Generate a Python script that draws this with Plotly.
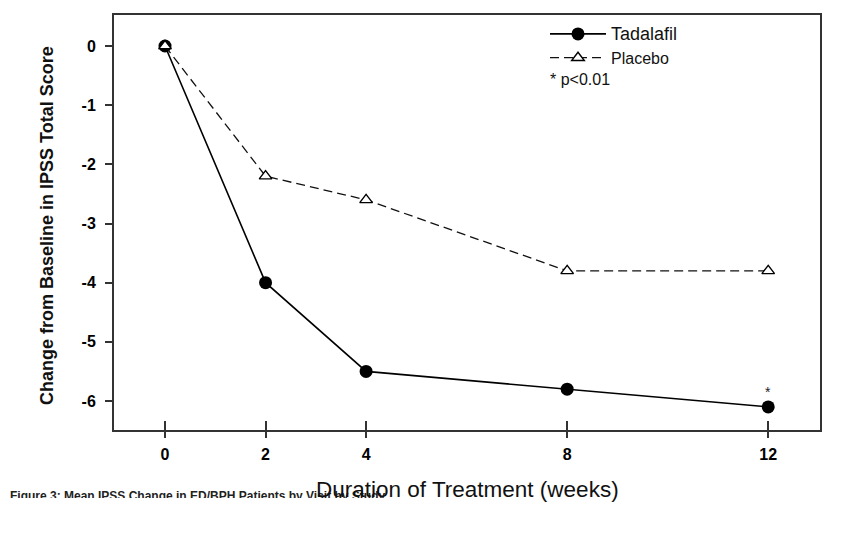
import plotly.graph_objects as go

# ---- data ----
weeks = [0, 2, 4, 8, 12]
tadalafil = [0.0, -4.0, -5.5, -5.8, -6.1]
placebo = [0.0, -2.2, -2.6, -3.8, -3.8]
x_tick_vals = [0, 2, 4, 8, 12]
x_tick_text = ["0", "2", "4", "8", "12"]
y_tick_vals = [0, -1, -2, -3, -4, -5, -6]
y_tick_text = ["0", "-1", "-2", "-3", "-4", "-5", "-6"]
sig_week = 12
sig_value = -6.1
footer_text = "Figure 3: Mean IPSS Change in ED/BPH Patients by Visit by Study"

FONT = "Liberation Sans, Arial, sans-serif"
OFF = 8                      # page body margin
W, H = 868 - OFF, 544 - OFF
MT, MB = 7, 44
PH = H - MT - MB             # plot-area height (figure px)
PB = H - MB                  # plot-area bottom (figure px)


def py(screen_y):
    """screen pixel y -> paper y"""
    return (PB - (screen_y - OFF)) / PH


def px(screen_x):
    """screen pixel x -> paper x"""
    return (screen_x - OFF) / W


fig = go.Figure()

fig.add_trace(go.Scatter(
    x=weeks, y=tadalafil, mode="lines+markers",
    name="<span style='font-size:18px'>Tadalafil</span>",
    line=dict(color="#000000", width=1.6),
    marker=dict(symbol="circle", size=13, color="#000000"),
    cliponaxis=False,
))
fig.add_trace(go.Scatter(
    x=weeks, y=placebo, mode="lines+markers",
    name="Placebo",
    line=dict(color="#111111", width=1.3, dash="9px,5px"),
    marker=dict(symbol="triangle-up", size=11, color="#ffffff",
                line=dict(color="#000000", width=1.4)),
    cliponaxis=False,
))
# empty trace to host the crossing-tick axis
fig.add_trace(go.Scatter(x=[], y=[], xaxis="x2", yaxis="y", showlegend=False))
# footer caption, clipped like in the reference
fig.add_trace(go.Scatter(
    x=[OFF + 2], y=[497], mode="text", text=["<b>" + footer_text + "</b>"],
    textposition="middle right",
    textfont=dict(size=12, color="#222", family=FONT),
    xaxis="x3", yaxis="y3", showlegend=False, hoverinfo="skip", cliponaxis=True,
))

xdom = [px(114), px(820)]
ydom = [py(430), 1.0]
xr = [-1.015, 13.03]

fig.update_layout(
    width=W, height=H, autosize=False,
    margin=dict(l=0, r=0, t=MT, b=MB, pad=0),
    paper_bgcolor="white", plot_bgcolor="white",
    font=dict(family=FONT, color="#000"),
    showlegend=True,
    legend=dict(
        x=px(545), y=py(17), xanchor="left", yanchor="top",
        bgcolor="rgba(0,0,0,0)", font=dict(size=16, color="#111", family=FONT),
        tracegroupgap=0, itemwidth=56,
    ),
    xaxis=dict(
        domain=xdom, range=xr, anchor="y",
        tickmode="array", tickvals=x_tick_vals, ticktext=x_tick_text,
        ticks="outside", ticklen=6, tickwidth=1.5, tickcolor="#333",
        ticklabelstandoff=3,
        tickfont=dict(size=16, color="#000", family=FONT, weight="bold"),
        showline=True, linecolor="#333", linewidth=2, mirror=True,
        showgrid=False, zeroline=False,
    ),
    xaxis2=dict(
        domain=xdom, range=xr, overlaying="x", anchor="y", side="bottom",
        tickmode="array", tickvals=x_tick_vals, ticks="inside", ticklen=9,
        tickwidth=1.5, tickcolor="#333", showticklabels=False,
        showline=False, showgrid=False, zeroline=False,
    ),
    yaxis=dict(
        domain=ydom, range=[-6.49, 0.524], anchor="x",
        tickmode="array", tickvals=y_tick_vals, ticktext=y_tick_text,
        ticks="outside", ticklen=7, tickwidth=1.5, tickcolor="#333",
        ticklabelstandoff=6,
        tickfont=dict(size=16, color="#000", family=FONT, weight="bold"),
        showline=True, linecolor="#333", linewidth=2, mirror=True,
        showgrid=False, zeroline=False,
    ),
    xaxis3=dict(domain=[0, 1], range=[OFF, OFF + W], anchor="y3", visible=False),
    yaxis3=dict(domain=[py(498), py(486)], range=[498, 486], anchor="x3", visible=False),
    annotations=[
        dict(text="Duration of Treatment (weeks)", xref="paper", yref="paper",
             x=px(468), y=py(489), xanchor="center", yanchor="middle",
             showarrow=False, font=dict(size=22.5, color="#111", family=FONT)),
        dict(text="<b>Change from Baseline in IPSS Total Score</b>", xref="paper", yref="paper",
             x=px(47), y=py(226), xanchor="center", yanchor="middle", textangle=-90,
             showarrow=False, font=dict(size=18, color="#111", family=FONT)),
        dict(text="* p&lt;0.01", xref="paper", yref="paper",
             x=px(548), y=py(80), xanchor="left", yanchor="middle",
             showarrow=False, font=dict(size=16, color="#111", family=FONT)),
        dict(text="*", x=sig_week, y=sig_value, xref="x", yref="y",
             xanchor="center", yanchor="middle", yshift=15,
             showarrow=False, font=dict(size=14, color="#222", family=FONT)),
    ],
)

fig.write_html("out.html")
